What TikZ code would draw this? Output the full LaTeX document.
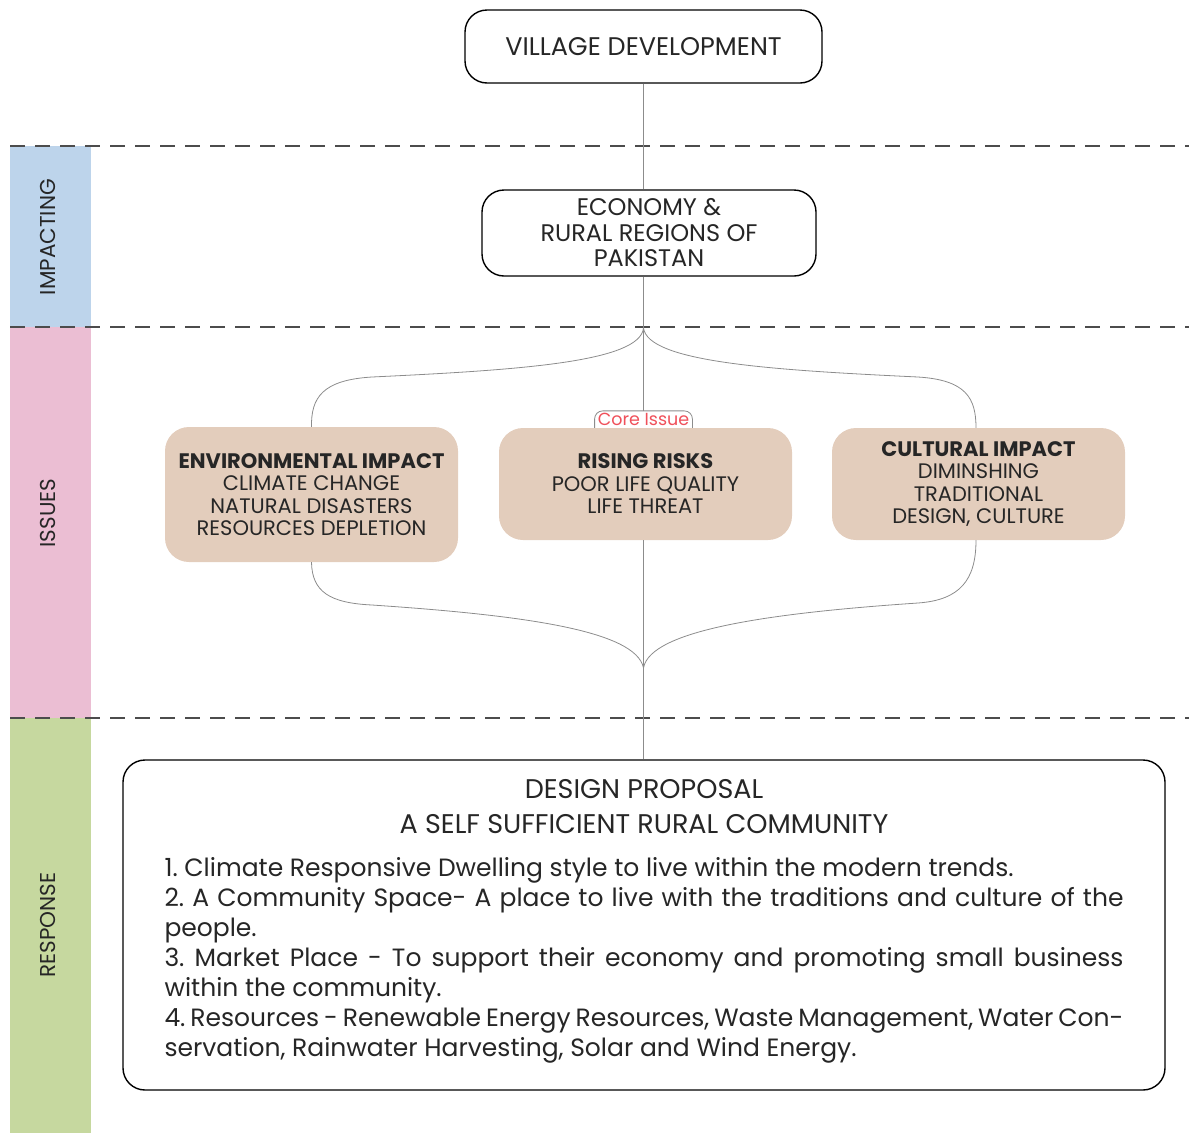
\documentclass[tikz,border=0pt]{standalone}
\usepackage{fontspec}
\setmainfont{Poppins}
\usetikzlibrary{positioning}

\definecolor{bandblue}{HTML}{BDD4EB}
\definecolor{bandpink}{HTML}{EBBED3}
\definecolor{bandgreen}{HTML}{C6D89F}
\definecolor{issuefill}{HTML}{E3CDBC}
\definecolor{coretext}{HTML}{F0505A}
\definecolor{inktext}{HTML}{262626}

\frenchspacing

\begin{document}
\begin{tikzpicture}[
    x=1pt, y=-1pt,
    every node/.style={text=inktext},
    outline/.style={
      draw=black, line width=1.4pt,
      rounded corners=22pt,
      fill=white, align=center
    },
    issue/.style={
      fill=issuefill, rounded corners=24pt,
      minimum width=293pt, align=center,
      font=\fontsize{21}{22.5}\selectfont
    },
    bandlabel/.style={rotate=90, font=\fontsize{21.5}{24}\selectfont},
    sepline/.style={dash pattern=on 15pt off 10pt, line width=1.3pt, black!70},
    link/.style={draw=black!45, line width=0.8pt}
  ]

  \useasboundingbox (0,0) rectangle (1189,1133);

% --- Side bands ---
  \fill[bandblue]  (10,146) rectangle (91,327);
  \fill[bandpink]  (10,327) rectangle (91,718);
  \fill[bandgreen] (10,718) rectangle (91,1133);
  \node[bandlabel] (impacting) at (48,237) {IMPACTING};
  \node[bandlabel] (issues)    at (48,513) {ISSUES};
  \node[bandlabel] (response)  at (48,925) {RESPONSE};

% --- Section separators ---
  \draw[sepline] (10,146) -- (1189,146);
  \draw[sepline] (10,327) -- (1189,327);
  \draw[sepline] (10,718) -- (1189,718);

% --- Top boxes ---
  \node[outline, minimum width=357pt, minimum height=73pt,
        font=\fontsize{25.5}{28}\selectfont] (village) at (643.5,46.5) {VILLAGE DEVELOPMENT};
  \node[outline, minimum width=334pt, minimum height=86pt,
        font=\fontsize{24}{25.5}\selectfont] (economy) at (649,233) {ECONOMY \&\\RURAL REGIONS OF\\PAKISTAN};

  \coordinate (split) at (village.south |- 0,328);
  \coordinate (merge) at (village.south |- 0,668);

% --- Issues ---
  \node[issue, minimum height=135pt] (environ) at (311.5,494.5)
    {{\bfseries ENVIRONMENTAL IMPACT}\\CLIMATE CHANGE\\NATURAL DISASTERS\\RESOURCES DEPLETION};
  \node[issue, minimum height=112pt] (rising) at (645.5,484)
    {{\bfseries RISING RISKS}\\POOR LIFE QUALITY\\LIFE THREAT};
  \node[issue, minimum height=112pt] (cultural) at (978.5,484)
    {{\bfseries CULTURAL IMPACT}\\DIMINSHING\\TRADITIONAL\\DESIGN, CULTURE};

  \node[fill=white, inner xsep=3pt, inner ysep=2pt, text=coretext,
        font=\fontsize{17.5}{19}\selectfont,
        above=0pt of rising.north -| village.south] (core) {Core Issue};
  \draw[link, rounded corners=8pt] (core.south west) -- (core.north west) -- (core.north east) -- (core.south east);

% --- Design proposal ---
  \node[outline, minimum width=1042pt, minimum height=330pt] (design) at (644,925) {};
  \node[align=center, font=\fontsize{27}{35}\selectfont] (dtitle) at (644,807)
    {DESIGN PROPOSAL\\A SELF SUFFICIENT RURAL COMMUNITY};
  \node[text width=959pt, align=justify, font=\fontsize{25}{30}\selectfont] (dlist) at (644,960) {%
    1. Climate Responsive Dwelling style to live within the modern trends.\\
    2. A Community Space- A place to live with the traditions and culture of the\linebreak people.\\
    3. Market Place - To support their economy and promoting small business\linebreak within the community.\\
    4. Resources - Renewable Energy Resources, Waste Management, Water Con-\linebreak servation, Rainwater Harvesting, Solar and Wind Energy.};

% --- Connectors ---
  \draw[link] (village.south) -- (village.south |- economy.north);
  \draw[link] (village.south |- economy.south) -- (split);
  \draw[link] (split) -- (core.north);
  \draw[link] (split) .. controls (640,362) and (520,370) .. (372,377)
                      .. controls (322,380) and (311,398) .. (environ.north);
  \draw[link] (split) .. controls (648,362) and (770,370) .. (918,377)
                      .. controls (966,380) and (976,398) .. (cultural.north -| 976,0);
  \draw[link] (environ.south) .. controls (312,592) and (330,603) .. (372,605)
                      .. controls (520,615) and (636,630) .. (merge);
  \draw[link] (cultural.south -| 976,0) .. controls (976,580) and (960,600) .. (918,603)
                      .. controls (770,613) and (650,630) .. (merge);
  \draw[link] (rising.south -| village.south) -- (village.south |- design.north);

\end{tikzpicture}
\end{document}
